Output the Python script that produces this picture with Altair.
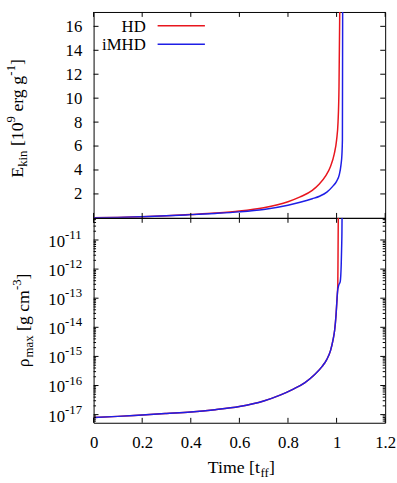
import altair as alt
import pandas as pd

# ---------------- data ----------------
series_names = ["HD", "iMHD"]
series_colors = ["#e8161e", "#1e1ee6"]

# specific kinetic energy [1e9 erg/g] against time [t_ff]
t_ekin_hd = [0.0, 0.1, 0.2, 0.3, 0.4, 0.5, 0.6, 0.7, 0.8, 0.85, 0.9, 0.93,
             0.955, 0.975, 0.99, 1.0, 1.006, 1.01, 1.013]
ekin_hd = [0.02, 0.04, 0.09, 0.17, 0.28, 0.40, 0.57, 0.85, 1.35, 1.75, 2.3, 2.85,
           3.5, 4.3, 5.3, 6.5, 8.0, 11.0, 17.2]

t_ekin_imhd = [0.0, 0.1, 0.2, 0.3, 0.4, 0.5, 0.6, 0.7, 0.8, 0.85, 0.9, 0.93,
               0.96, 0.984, 1.0, 1.011, 1.018, 1.022, 1.024, 1.025]
ekin_imhd = [0.02, 0.04, 0.09, 0.17, 0.27, 0.37, 0.50, 0.70, 1.05, 1.3, 1.6, 1.81,
             2.15, 2.63, 3.05, 3.59, 4.4, 5.3, 6.5, 17.2]

# log10 of the peak density [g cm^-3] against time [t_ff]
t_rho_hd = [0.0, 0.1, 0.2, 0.3, 0.4, 0.5, 0.6, 0.7, 0.77, 0.82, 0.87, 0.91,
            0.94, 0.96, 0.975, 0.985, 0.992, 0.998, 1.002, 1.005, 1.006, 1.007]
log_rho_hd = [-17.10, -17.06, -17.01, -16.96, -16.91, -16.83, -16.72, -16.53,
              -16.32, -16.13, -15.90, -15.62, -15.35, -15.10, -14.80, -14.45,
              -14.10, -13.55, -13.00, -12.55, -11.5, -10.24]

t_rho_imhd = [0.0, 0.1, 0.2, 0.3, 0.4, 0.5, 0.6, 0.7, 0.77, 0.82, 0.87, 0.91,
              0.94, 0.96, 0.975, 0.985, 0.992, 0.998, 1.002, 1.004, 1.009,
              1.015, 1.019, 1.021, 1.022, 1.0225]
log_rho_imhd = [-17.10, -17.06, -17.01, -16.96, -16.91, -16.83, -16.72, -16.53,
                -16.32, -16.13, -15.90, -15.62, -15.35, -15.10, -14.80, -14.45,
                -14.10, -13.55, -13.00, -12.77, -12.55, -12.43, -11.87, -11.2,
                -10.74, -10.24]

time_ticks = [0, 0.2, 0.4, 0.6, 0.8, 1.0, 1.2]
ekin_ticks = [2, 4, 6, 8, 10, 12, 14, 16]
rho_decades = [-17, -16, -15, -14, -13, -12, -11]

# ---------------- layout / style ----------------
W = 296
H_TOP = 209
H_BOT = 208
FONT = "Liberation Serif, Times New Roman, serif"
LABEL_SIZE = 17
MAIN_SIZE = 18
SCRIPT_SIZE = 13
SUB_SHIFT = 4
SUP_SHIFT = 8
TICK = 5
MINOR = 2.5
LINE_W = 1.5

RHO_LO, RHO_HI = 10 ** -17.28, 10 ** -10.24
x_scale = alt.Scale(domain=[0, 1.2], nice=False, zero=False)
ekin_scale = alt.Scale(domain=[0, 17.2], nice=False, zero=False)
rho_scale = alt.Scale(type="log", domain=[RHO_LO, RHO_HI], nice=False)

x_axis_bottom = alt.Axis(values=time_ticks, format=".1~f", title=None, grid=False,
                         domain=False, ticks=False, tickSize=0, labelPadding=25,
                         labelBaseline="alphabetic", labelFont=FONT,
                         labelFontSize=LABEL_SIZE, labelColor="black",
                         labelFlush=False, labelOverlap=False)
ekin_axis = alt.Axis(values=ekin_ticks, title=None, grid=False, domain=False,
                     ticks=False, tickSize=0, labelPadding=12, labelFont=FONT,
                     labelFontSize=LABEL_SIZE, labelColor="black",
                     labelOverlap=False)

# Times-like advance widths (em) used to lay out titles with sub/superscripts
GLYPH_W = {"E": 0.611, "k": 0.5, "i": 0.278, "n": 0.5, " ": 0.25, "[": 0.333,
           "]": 0.333, "1": 0.5, "0": 0.5, "9": 0.5, "3": 0.5, "e": 0.444,
           "r": 0.333, "g": 0.5, "-": 0.333, "ρ": 0.549, "m": 0.778, "a": 0.444,
           "x": 0.5, "c": 0.444, "T": 0.611, "t": 0.278, "f": 0.333}


def text_width(s, size):
    return sum(GLYPH_W.get(c, 0.5) for c in s) * size


def rich_text(pieces, center, base, rotate):
    """Lay out (text, role) pieces; role is 'main', 'sub' or 'sup'."""
    sizes = [MAIN_SIZE if r == "main" else SCRIPT_SIZE for _, r in pieces]
    total = sum(text_width(s, z) for (s, _), z in zip(pieces, sizes))
    pos = 0.0
    layers = []
    for (s, role), size in zip(pieces, sizes):
        lead = len(s) - len(s.lstrip(" "))
        pos += text_width(" " * lead, size)
        body = s.lstrip(" ")
        shift = {"main": 0, "sub": SUB_SHIFT, "sup": -SUP_SHIFT}[role]
        if rotate:
            x, y, ang = base + shift, center + total / 2 - pos, 270
        else:
            x, y, ang = center - total / 2 + pos, base + shift, 0
        layers.append(
            alt.Chart(pd.DataFrame({"s": [body]}))
            .mark_text(align="left", baseline="alphabetic", angle=ang, font=FONT,
                       fontSize=size, color="black")
            .encode(x=alt.value(x), y=alt.value(y), text="s:N")
        )
        pos += text_width(body, size)
    return layers


def line_layer(ts, vs, color, y_enc):
    df = pd.DataFrame({"t": ts, "v": vs, "i": range(len(ts))})
    return (
        alt.Chart(df)
        .mark_line(clip=True, strokeWidth=LINE_W, color=color, interpolate="monotone")
        .encode(x=alt.X("t:Q", scale=x_scale, axis=x_axis_now), y=y_enc("v"),
                order=alt.Order("i:Q"))
    )


def x_tick_layers(h):
    df = pd.DataFrame({"t": time_ticks})
    base = alt.Chart(df).mark_rule(color="black", strokeWidth=1)
    x = alt.X("t:Q", scale=x_scale, axis=x_axis_now)
    return [
        base.encode(x=x, y=alt.value(h), y2=alt.value(h - TICK)),
        base.encode(x=x, y=alt.value(0), y2=alt.value(TICK)),
    ]


def y_tick_layers(values, field, y_enc, length):
    df = pd.DataFrame({field: values})
    base = alt.Chart(df).mark_rule(color="black", strokeWidth=1)
    return [
        base.encode(y=y_enc(field), x=alt.value(0), x2=alt.value(length)),
        base.encode(y=y_enc(field), x=alt.value(W - length), x2=alt.value(W)),
    ]


# ---------------- top panel: kinetic energy ----------------
x_axis_now = None


def ekin_y(f):
    return alt.Y(f"{f}:Q", scale=ekin_scale, axis=ekin_axis)


top_layers = [
    line_layer(t_ekin_hd, ekin_hd, series_colors[0], ekin_y),
    line_layer(t_ekin_imhd, ekin_imhd, series_colors[1], ekin_y),
]
top_layers += x_tick_layers(H_TOP)
top_layers += y_tick_layers(ekin_ticks, "v", ekin_y, TICK)

# key: label on the left, line sample on the right
legend_text_y = [20, 38.5]
legend_line_y = [14, 32.7]
for name, color, ty, ly in zip(series_names, series_colors, legend_text_y, legend_line_y):
    top_layers.append(
        alt.Chart(pd.DataFrame({"s": [name]}))
        .mark_text(align="right", baseline="alphabetic", font=FONT,
                   fontSize=LABEL_SIZE, color="black")
        .encode(x=alt.value(53), y=alt.value(ty), text="s:N")
    )
    top_layers.append(
        alt.Chart(pd.DataFrame({"s": [name]}))
        .mark_rule(color=color, strokeWidth=LINE_W)
        .encode(x=alt.value(65), x2=alt.value(113), y=alt.value(ly))
    )

top_layers += rich_text(
    [("E", "main"), ("kin", "sub"), (" [10", "main"), ("9", "sup"),
     (" erg g", "main"), ("-1", "sup"), ("]", "main")],
    center=108, base=-71.5, rotate=True)

# invisible spacer fixing the left margin of the figure
top_layers.append(
    alt.Chart(pd.DataFrame({"s": [0]}))
    .mark_rule(opacity=0, strokeWidth=0.01)
    .encode(x=alt.value(-94), x2=alt.value(-94), y=alt.value(100), y2=alt.value(110))
)

top = alt.layer(*top_layers).properties(width=W, height=H_TOP)

# ---------------- bottom panel: peak density ----------------
x_axis_now = x_axis_bottom


def rho_y(f):
    return alt.Y(f"{f}:Q", scale=rho_scale, axis=None)


bot_layers = [
    line_layer(t_rho_hd, [10 ** v for v in log_rho_hd], series_colors[0], rho_y),
    line_layer(t_rho_imhd, [10 ** v for v in log_rho_imhd], series_colors[1], rho_y),
]
bot_layers += x_tick_layers(H_BOT)

major = [10.0 ** d for d in rho_decades]
minor = [k * 10.0 ** d for d in range(-18, -10) for k in range(2, 10)
         if RHO_LO < k * 10.0 ** d < RHO_HI]
bot_layers += y_tick_layers(major, "v", rho_y, TICK)
bot_layers += y_tick_layers(minor, "v", rho_y, MINOR)

# decade labels written as 10 with a raised exponent
dec_df = pd.DataFrame({"v": major, "base": ["10"] * len(major),
                       "exp": [str(d) for d in rho_decades]})
bot_layers.append(
    alt.Chart(dec_df)
    .mark_text(align="right", baseline="alphabetic", dy=7, font=FONT,
               fontSize=LABEL_SIZE, color="black")
    .encode(y=rho_y("v"), x=alt.value(-29), text="base:N")
)
bot_layers.append(
    alt.Chart(dec_df)
    .mark_text(align="left", baseline="alphabetic", dy=-1, font=FONT,
               fontSize=SCRIPT_SIZE, color="black")
    .encode(y=rho_y("v"), x=alt.value(-29), text="exp:N")
)

bot_layers += rich_text(
    [("ρ", "main"), ("max", "sub"), (" [g cm", "main"), ("-3", "sup"), ("]", "main")],
    center=104, base=-66, rotate=True)
bot_layers += rich_text(
    [("Time [t", "main"), ("ff", "sub"), ("]", "main")],
    center=150, base=259, rotate=False)

bottom = alt.layer(*bot_layers).properties(width=W, height=H_BOT)

chart = (
    alt.vconcat(top, bottom, spacing=0, bounds="flush")
    .properties(padding={"left": 0, "top": 7.5, "right": 0, "bottom": 0},
                background="white")
    .configure(font=FONT)
    .configure_view(stroke="black", strokeWidth=1)
)

chart.save("out.html", embed_options={"renderer": "svg", "actions": False})
